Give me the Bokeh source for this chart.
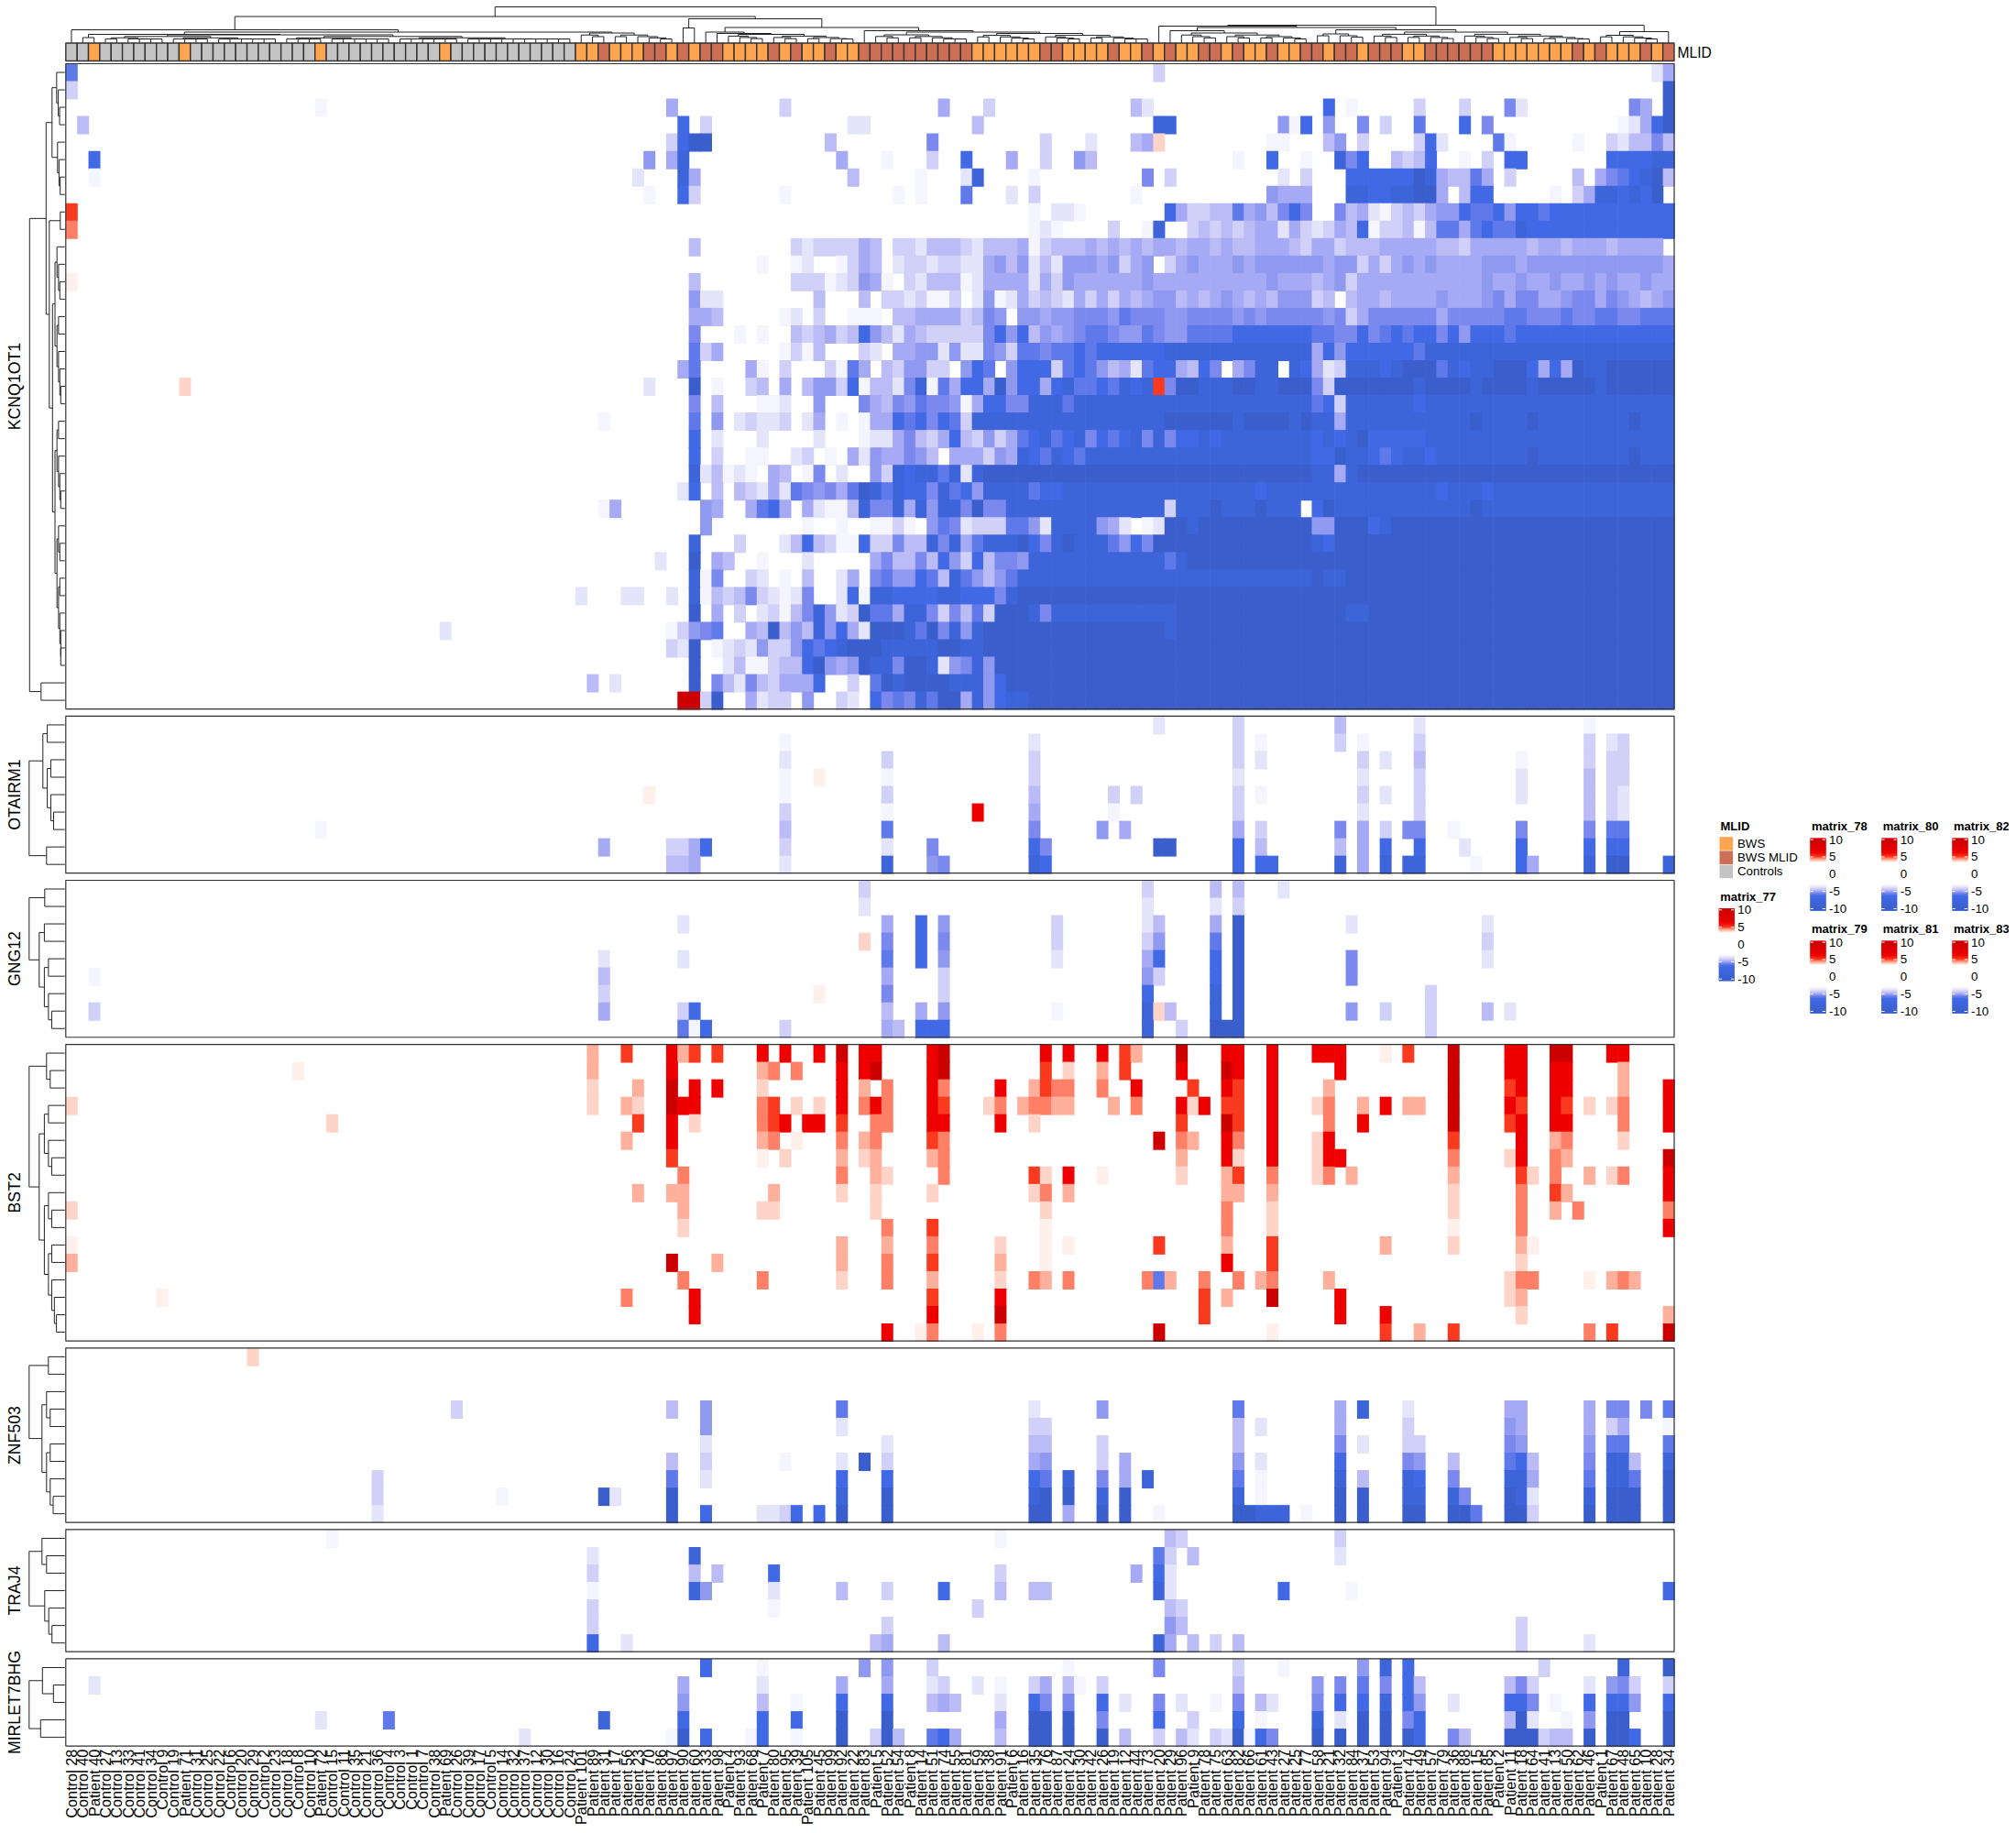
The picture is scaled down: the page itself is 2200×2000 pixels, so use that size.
import re
from math import pi
from bokeh.plotting import figure
from bokeh.models import Range1d, LinearColorMapper, ColumnDataSource
from bokeh.core.properties import value
from bokeh.embed import file_html
from bokeh.resources import INLINE

# ---------------------------------------------------------------- data
COLUMN_IDS = ("C28 C40 P40 C27 C13 C33 C41 C34 C9 C19 P71 C31 C25 C22 C6 C20 C29 C2 C23 C18 C8 C10 P72 C15 C11 "
              "C35 C21 C36 C4 C3 C1 C7 C38 P69 C26 C39 C17 C5 C14 C32 C37 C12 C30 C16 C24 "
              "P101 P89 P31 P17 P56 P23 P70 P86 P97 P90 P60 P33 P98 P4 P93 P68 P7 P80 P95 P39 P105 P45 P99 P92 P22 "
              "P83 P5 P52 P54 P8 P14 P51 P74 P55 P81 P59 P38 P91 P6 P16 P35 P76 P87 P24 P30 P42 P26 P19 P12 P44 "
              "P73 P20 P29 P96 P9 P78 P75 P63 P82 P66 P61 P43 P27 P25 P77 P58 P21 P32 P84 P37 P53 P94 P3 P47 P49 "
              "P57 P79 P36 P88 P15 P85 P2 P11 P18 P64 P41 P13 P50 P62 P46 P1 P67 P48 P65 P10 P28 P34").split()

MLID_GROUPS = ("CCOCCCCCCCOCCCCCCCCCCCOCCCCCCCCCCOCCCCCCCCCCC"
               "OOMOOOMMOMOMMOOOOMOMOOMOOMMMMM"
               "MMMMMOOOOOOMMOOOOMOOMOMOOMMOMOOMOOMMOMMOMMMOOMMMMMMOOOOOOOMOMOOOMOM")

LEVELS = {"a": -3.0, "b": -3.5, "c": -4.0, "d": -4.4, "e": -4.7, "f": -5.0, "g": -5.3, "h": -5.6, "i": -6.2,
          "j": -8.0, "k": -10.0, "A": 3.7, "B": 4.0, "C": 4.4, "D": 4.8, "E": 5.2, "F": 6.5, "G": 10.0}

KCNQ1OT1 = [
 "1h 97c 141be",
 "1c 142k",
 "23a 54e 64c 78e 82c 95db 112i 114a 120c 124c 128gb 139ge 142k",
 "2d 55i 57c 70bb 81d 97jj 108fai 112f 115g 117c 120h 124i 126g 138abeik",
 "54cikk 68d 77g 87c 91b 95deB 107aa 112df 115c 120cib 127ha 134a 137cbddgd",
 "3i 52f 54ej 69e 73a 77c 80i 84e 87c 90fd 104a 107i 110a 113jgi 118dcdi 124a 126c 128ii 137iiiijj",
 "3a 51b 55je 70d 76a 80bj 86a 96g 98c 108b 110c 114iiiiiikjeddhe 128c 134d 136eghijkd",
 "52a 55ic 64a 74a 76a 80h 84b 86c 95a 107feee 114jjiijjkke.dii 132a 134cejjijik",
 "1E 86a 88bba 98ieccddhefdgig..gdebacdceffihhifiihiiiiiiiiiii",
 "1D 86aba 93c 96a 97j 100cdcdcdeebecbcediaccdadhhehihhjiiiiiiiiiiiii",
 "56d 65cbcccced.ccbdddcbdddeacdddededede 98edeededdeeedceecdddeeeeeddceeeeedeedeeedeeee",
 "62a 65ab..aced.bccbccbbefdfbdbfffefcef 98cefeeefeffffffeffcecefefeeeefffeffffffffffffef",
 "1A 56d 65cccabcfea.cbdddabeeeebecfeeeeeefe 98eeeeeeeeefeeedefceeeeeeeeeeefeefeefeefefeefeee",
 "56fbb 67d 71d 73ccbcaac.bfabecdcbececedef 98fdedefededfffcd.deedeeeefeeefgeggeefggegfedef",
 "56eed 64ab.c 70aaa.ddeeeecdgf.ffeffgggfhggg 98ffggggfgfgggggfgceggggggeggggghhggghgghhgghhhghg",
 "56g 60a 62a 65dcdecdifdbedcccccgifidfefghhgffhg 98ffhhhhiiiiiiihhggighihiigifiiihiiiiiiiiiiiiiii",
 "56hce 64acad 71cb.eeffbfbbgfchhghhihiiiiii 98-110j 111eif 114-119i 120h 121-142j",
 "55eh 61ea 64c 68cahe.dcffcc.fih.fiiichihfdebhi 98iedig.egjj.jiebcjjjijkkkhjijjkkkieiekjjk 138-142k",
 "11B 52b 56k 58a 61cd 64e 66dffcia 72ddbgjahei 81iekfiieijhhihjijE 98gkkjjjkkjjkkkgc 113-142k 120j 125j 130j 136j",
 "56g 58d 62aa 64b 67f 71gedgfhggfaeiiggjjjhj 91-97j 98-110j 111hic 114-119j 120i 121-142j",
 "48a 56h 58f 60bcbbc 66be 69a 71aeeihigihc 81-97j 98-110k 104j 109j 111jje 114-142j 125k 130k 139k",
 "56i 58b 62b 67b 71abbegdceidcfcehijhijgihijgj 98giijij 104-110j 111iji 114jkiiiii 121-142j",
 "56i 58c 61aa 65bc 68a 70ebfeegfd.eeecfejihjih 91-97j 98-110j 111iikjjihijji 122-142j 130k 139k",
 "56jbdaba 63ed 66ag 69b 72fcjijjhjbj 82-110k 111jjej 115-142k",
 "55bi 58d 60dcbebhgfgehkjhjiigjhifjjjjhii 89-142j 106i 122i 126i",
 "48a 49e 57fe 61ehie.eba 69adjggjejfjjgkggj 85-97j 98cjjjkjjjkjjj 111ik 113-142j 125k",
 "57f 66a 69a 72aaca.fhgbccchhfbjjjjfeb.ab 98kkj 101-110k 111ffkkkij 118-142k",
 "56j 60c 64bdidcaaiccgddjgjehjjjkigjkjjjhfigk 98-110k 111ji 113-142k",
 "53b 56k 58ed 62a 66b 72egddgdifcidggf 86-97j 98hj 100-142k",
 "56j 57ag 61cb 64a 66d 69be 72ghffihdjhfdfh 85-97j 98-110j 111-142k 112j 113j",
 "46b 50bb 54b 56jadcdgcbabg 69bia 72jjiiiijjiiigj 85-142k",
 "56k 58e 60c 62bcadgjfbckhhejjgcgdhckkkjgj 89-97j 98j 99-142k 114j 115j",
 "34b 54acfgh 61edkdfdjfieb 72kkkjhkgjfj 82-142k 98j",
 "54cbk 58abcbfccfihijkkkjjjjjkkjj 82-142k",
 "56k 59bdaacddikfef 71kjjgkkjbfgjf 83-142k",
 "47d 49b 56k 58gdbgdceeei..c 72hkjkkkkjjjfi 84-142k",
 "55GGck 61ebcc 66f 69cb 72ighgjhkkejfijj 86-142k",
]

OTAIRM1 = [
 "97b 104c 113d 120b 135a",
 "64a 86b 104c 106a 113c 115a 120c 135c 137bc",
 "64b 73c 86c 104c 106b 115c 117b 120d 129a 135c 137cc",
 "64a 67A 73a 86c 104b 115b 120c 129b 135d 137cc",
 "52A 64a 73c 86d 93c 95c 104c 106a 115c 117b 120c 129b 135d 137cb",
 "64c 73a 81F 86e 93a 104c 115b 120c 135d 137cb",
 "23a 64d 73h 86g 92f 94e 104e 106c 113g 115e 117c 119g 120g 123a 129g 135g 137hh",
 "48e 54cce 57i 64c 73b 77g 86ig 97kk 104i 106d 113d 115e 117i 120i 124b 129i 135i 137ii",
 "54dde 64b 73j 77fg 86ji 104i 106ii 113j 115e 117j 119jj 125a 129ie 135j 137kk 142j",
]

GNG12 = [
 "71c 96c 102d 104d 108b",
 "71b 96b 102b 104c",
 "55b 73e 76i 78f 88c 96b 97d 102e 104k 114b 126b",
 "71B 73g 76i 78g 88c 96c 97f 102h 104k 126c",
 "48b 55b 73h 76i 78f 88b 96e 97i 102i 104k 114g 126b",
 "3a 48d 73e 78c 96f 97c 102i 104k 114g",
 "48c 67A 73g 78c 96i 102j 104k 121c",
 "3c 48e 55c 56i 73d 76e 78f 88a 96jB 98d 102j 104k 114f 117c 121c 126d 128b",
 "55hai 64c 73ed 76iii 96j 99c 102kk 104k 121c",
]

BST2 = [
 "47C 50E 54FC 56E 58E 62F 64F 67F 69G 71FF 77FG 87F 89F 92F 94E 95C 99G 103FF 107F 111FF 113F 117A 119E 123G 128FF 132GG 137FF",
 "21A 47C 54F 62CD 65D 69F 71FG 77FG 87E 89B 92C 94E 99F 103GF 107F 113F 123G 128FF 132FF 138C",
 "47B 51C 54G 56F 58F 62B 69F 71C 73D 77F 78D 83F 86C 87E 88D 89D 92D 95F 100E 103FE 107F 112C 123G 128EF 132FF 138C 142F",
 "1B 47B 50CB 54G 55FF 62DE 65B 67B 69F 71DF 73D 77FE 82BD 85C 86DD 88CC 93C 95D 99F 100B 101F 103EE 107F 111B 112D 115C 117F 119CC 123G 128FE 132FE 135B 137B 138D 142F",
 "24B 51E 54F 56B 62DE 64F 66F 67F 69E 72DD 77FF 83F 86B 99E 103GE 107F 112D 115F 123G 128EF 132FF 138D 142F",
 "50C 54F 62CD 65A 69D 71CD 77ED 97G 99DC 103FD 107F 111B 112F 123E 129F 132CD 138B",
 "54E 62A 64B 69C 71BC 77CD 99C 103FB 107F 111B 112FF 123D 128BF 132DC 142G",
 "55D 69D 72CB 78D 86E 87B 89F 92A 99B 103CE 107D 111B 112D 114C 123C 129EB 132D 135C 137BD 142F",
 "51C 54CC 63C 69B 72B 77B 86B 87D 89C 103CC 107C 123B 129D 132EC 142F",
 "1B 55C 62BB 72B 87B 103D 107B 123B 129D 132C 134D 142D",
 "55B 73D 77E 87A 103D 107B 123A 129D 142F",
 "1A 69C 73C 77D 83B 87A 89A 97E 103C 107E 117C 123B 129CA",
 "1C 54G 58C 69C 73D 77E 83C 87A 103F 107E 129B",
 "55D 62D 69B 73D 77C 83B 86DC 89D 96DhC 101D 104D 106CD 112C 128BDD 135A 137CDC",
 "9A 50D 56F 77E 83F 101E 103C 107G 113F 128BC",
 "56F 77F 83G 101E 113F 117F 129B 142C",
 "73F 76AD 81A 83D 97G 107A 117E 120C 123E 135D 137E 142G",
]

ZNF503 = [
 "17B",
 "",
 "",
 "35c 54d 57f 69h 86b 92f 104h 113e 115j 119b 128ee 135e 137gg 140g 142h",
 "57f 69b 86cc 104d 106b 113e 119c 128fe 135e 137ce 142a",
 "57b 73b 86dd 92c 104d 113g 115b 119cc 128gf 135f 137hh 142h",
 "54d 57c 64a 69b 71k 73c 86ef 92c 94e 104f 106b 113i 119gf 123d 128hid 135g 137jjd 142j",
 "28c 54h 57b 69i 73i 86ih 89j 92g 94e 96j 104h 106a 113j 115d 119ji 123g 128jje 135h 137jjh 142k",
 "28c 39a 48kb 54k 69j 73k 86jk 89k 92j 94k 104j 106a 113k 115k 119jj 123jg 128kjb 135j 137kkk 142k",
 "28b 54k 57i 62bb 64c 65i 67i 69k 73k 86kk 89e 92k 94k 97a 104kkjjj 110a 113k 115k 119kk 123kkh 128kkc 135k 137kkk 142k",
]

TRAJ4 = [
 "24a 83a 98dc 113c",
 "47b 56j 97hc 100d 113b",
 "47c 56d 58d 63i 83c 95e 97ib",
 "47a 56jf 63b 69d 73c 78i 83d 86dd 97jb 108i 114a 142i",
 "47c 63a 81c 98dc",
 "47c 73c 98fd 129c",
 "47i 50b 72de 78d 97je 100d 102c 104d 129c 135b",
]

MIRLET7BHG = [
 "57i 62a 71f 73f 77c 89a 97g 104c 108a 115f 117j 119i 131c 138j 142k",
 "3b 55e 62b 69e 73e 77bc 81b 83a 86ce 89da 92c 104d 111f 113g 115h 117g 119id 128dgc 135b 137fgc 142c",
 "55f 62d 65a 69i 73i 77ded 83b 86ig 89g 92i 94b 97g 99b 102a 104g 106db 111g 113i 115i 117j 119if 123b 128iig 132a 135i 137iif 142i",
 "23b 29h 48j 55i 62i 65i 69k 73k 83e 86kk 89k 92g 97i 100c 104i 106a 111j 113b 115k 117k 119gi 128dkb 133a 135f 137kk 142k",
 "41b 54ak 57i 61ai 65a 69k 72ckd 77hie 83d 86kk 89k 92k 94d 97c 99db 102cb 104kaig 111k 113k 115k 117k 119ki 123gd 128kkkcdd 135k 137kki 142k",
]

PANELS = [("KCNQ1OT1", KCNQ1OT1), ("OTAIRM1", OTAIRM1), ("GNG12", GNG12), ("BST2", BST2),
          ("ZNF503", ZNF503), ("TRAJ4", TRAJ4), ("MIRLET7BHG", MIRLET7BHG)]
MLID_LEGEND = ["BWS", "BWS MLID", "Controls"]
MLID_COLORS = {"O": "#FFA54F", "M": "#CD6F55", "C": "#C4C4C4"}
LEGEND_TICKS = [10, 5, 0, -5, -10]
MATRIX_LEGENDS = ["matrix_77", "matrix_78", "matrix_79", "matrix_80", "matrix_81", "matrix_82", "matrix_83"]

# ---------------------------------------------------------------- layout (page pixels)
X0, X1 = 71.3, 1826.5
N = len(COLUMN_IDS)
CW = (X1 - X0) / N
ROW_H, GAP, TOP = 19.03, 7.8, 69.0
STRIP_T, STRIP_B = 46.5, 66.0
FONT = value("Liberation Sans")

def xc(k):
    return X0 + (k - 0.5) * CW

def parse(row):
    out = {}
    for tok in row.split():
        m = re.fullmatch(r"(\d+)-(\d+)(\S)", tok)
        if m:
            for k in range(int(m[1]), int(m[2]) + 1):
                out[k] = m[3]
            continue
        m = re.fullmatch(r"(\d+)(\S+)", tok)
        for i, ch in enumerate(m[2]):
            out[int(m[1]) + i] = ch
    return {k: v for k, v in out.items() if v != "." and k <= N}

def hexrgb(h):
    return tuple(int(h[i:i + 2], 16) for i in (1, 3, 5))

STOPS = [(-10, "#3A5FCD"), (-8, "#3D64D9"), (-6.2, "#4169E6"), (-5.6, "#5F78EA"), (-5.3, "#7B88EE"),
         (-5.0, "#9099F0"), (-4.7, "#A6A9F3"), (-4.4, "#BBBBF5"), (-4.0, "#D0D0F8"), (-3.5, "#E4E4FA"),
         (-3.0, "#F5F5FF"), (-2.7, "#FFFFFF"), (3.5, "#FFFFFF"), (3.7, "#FFF0EB"), (4.0, "#FFD4C8"),
         (4.4, "#FFB09C"), (4.8, "#FF8066"), (5.2, "#F93A1E"), (6.5, "#EE0000"), (10, "#CD0000")]

def ramp(v):
    for (a, ca), (b, cb) in zip(STOPS, STOPS[1:]):
        if a <= v <= b:
            t = (v - a) / (b - a)
            ra, rb = hexrgb(ca), hexrgb(cb)
            return "#%02X%02X%02X" % tuple(round(x + (y - x) * t) for x, y in zip(ra, rb))
    return "#FFFFFF"

palette = [ramp(-10 + 20 * i / 800) for i in range(801)]
mapper = LinearColorMapper(palette=palette, low=-10, high=10)

p = figure(width=2192, height=1998, x_range=Range1d(0, 2192), y_range=Range1d(1998, 0),
           toolbar_location=None, output_backend="svg", min_border=0)
p.axis.visible = False
p.grid.visible = False
p.outline_line_color = None

# ---------------------------------------------------------------- dendrogram helpers
def N_(h, a, b):
    return (h, a, b)

def g(n, h):
    if n == 1:
        return 0
    a = max(1, n * 2 // 5)
    ch = max(4.5, h * 0.8)
    return (h, g(a, ch), g(n - a, ch))

def layout(node, leaf_pos, segs):
    """returns (centre position, height)"""
    if node == 0:
        pos = leaf_pos.pop(0)
        return pos, 0.0
    h, a, b = node
    pa, ha = layout(a, leaf_pos, segs)
    pb, hb = layout(b, leaf_pos, segs)
    segs.append((pa, h, pb, h))
    segs.append((pa, ha, pa, h))
    segs.append((pb, hb, pb, h))
    return (pa + pb) / 2, h

TOP_TREE = N_(39.5,
    N_(29,
       N_(14.5, 0, N_(12, N_(9.5, N_(6, 0, 0), g(42, 9)), g(9, 11))),
       N_(26.5, N_(16.5, 0, 0),
          N_(17,
             N_(12, 0, N_(10.5, 0, g(12, 9.5))),
             N_(13.5, 0, N_(12, g(9, 9), g(16, 10.5)))))),
    N_(19.5,
       N_(18.5, 0,
          N_(17,
             N_(13.5, 0, g(12, 11)),
             N_(14.5, g(5, 10), g(20, 12)))),
       N_(12.5, g(6, 8.5), 0)))

ROW_TREES = {
    "KCNQ1OT1": N_(38.5, N_(20.5, N_(14, g(4, 9), g(4, 8)), N_(17, N_(5, 0, 0), g(25, 13.5))), N_(26, 0, 0)),
    "OTAIRM1": N_(39, g(7, 24), N_(20, 0, 0)),
    "GNG12": N_(39, N_(22, 0, 0), g(7, 28)),
    "BST2": N_(39, g(3, 20), g(14, 28)),
    "ZNF503": N_(39, g(2, 18), g(8, 25)),
    "TRAJ4": N_(39, g(3, 25), g(4, 22)),
    "MIRLET7BHG": N_(39, N_(24.5, 0, N_(12.5, 0, 0)), N_(26.5, 0, 0)),
}

# ---------------------------------------------------------------- top dendrogram
segs = []
layout(TOP_TREE, [xc(k) for k in range(1, N + 1)], segs)
p.segment(x0=[s[0] for s in segs], y0=[STRIP_T - s[1] for s in segs],
          x1=[s[2] for s in segs], y1=[STRIP_T - s[3] for s in segs], line_color="#222222", line_width=1)

# ---------------------------------------------------------------- annotation strip
p.rect(x=[xc(k) for k in range(1, N + 1)], y=[(STRIP_T + STRIP_B) / 2] * N, width=CW, height=STRIP_B - STRIP_T,
       fill_color=[MLID_COLORS[c] for c in MLID_GROUPS[:N]], line_color="#333333", line_width=1.4)
p.text(x=[X1 + 3.5], y=[56.5], text=["MLID"], text_font=FONT, text_font_size="15.6px", text_color="black",
       text_align="left", text_baseline="middle")

# ---------------------------------------------------------------- heatmap panels
top = TOP
cx, cy, cv = [], [], []
frames = []
for name, rows in PANELS:
    for r, row in enumerate(rows):
        for k, ch in parse(row).items():
            cx.append(xc(k))
            cy.append(top + (r + 0.5) * ROW_H)
            cv.append(LEVELS[ch])
    bottom = top + len(rows) * ROW_H
    frames.append((name, top, bottom))
    top = bottom + GAP

src = ColumnDataSource(dict(x=cx, y=cy, v=cv))
p.rect(x="x", y="y", width=CW, height=ROW_H, source=src, dilate=True, line_color=None,
       fill_color={"field": "v", "transform": mapper})

for name, t, b in frames:
    p.quad(left=[X0], right=[X1], top=[t], bottom=[b], fill_color=None, line_color="#303030", line_width=1.2)
    p.text(x=[15], y=[(t + b) / 2], text=[name], angle=pi / 2, text_font=FONT, text_font_size="17.7px",
           text_color="black", text_align="center", text_baseline="middle")
    nrows = round((b - t) / ROW_H)
    segs = []
    layout(ROW_TREES[name], [t + (i + 0.5) * ROW_H for i in range(nrows)], segs)
    p.segment(x0=[X0 - 1 - s[1] for s in segs], y0=[s[0] for s in segs],
              x1=[X0 - 1 - s[3] for s in segs], y1=[s[2] for s in segs], line_color="#222222", line_width=1)

# ---------------------------------------------------------------- column labels
labels = [("Control " if c[0] == "C" else "Patient ") + c[1:] for c in COLUMN_IDS]
p.text(x=[xc(k) for k in range(1, N + 1)], y=[frames[-1][2] + 3.5] * N, text=labels, angle=pi / 2, text_font=FONT,
       text_font_size="16.3px", text_color="black", text_align="right", text_baseline="middle")

# ---------------------------------------------------------------- legends
def title(x, y, s):
    p.text(x=[x], y=[y], text=[s], text_font=FONT, text_font_size="13px", text_font_style="bold",
           text_color="black", text_align="left", text_baseline="middle")

title(1877, 901, "MLID")
for i, (lab, key) in enumerate(zip(MLID_LEGEND, "OMC")):
    yc = 920 + i * 15.2
    p.rect(x=[1883.3], y=[yc], width=14.6, height=14.6, fill_color=MLID_COLORS[key], line_color=None)
    p.text(x=[1895.5], y=[yc], text=[lab], text_font=FONT, text_font_size="13.3px", text_color="black",
           text_align="left", text_baseline="middle")

def colorbar(x, y0, name):
    title(x + 1.5, y0 - 52, name)
    unit = 3.77
    vals = [i / 10 for i in range(-104, 105) if abs(i) >= 27]
    s = ColumnDataSource(dict(x=[x + 8.25] * len(vals), y=[y0 - v * unit for v in vals], v=vals))
    p.rect(x="x", y="y", width=16.5, height=0.1 * unit, dilate=True, source=s, line_color=None,
           fill_color={"field": "v", "transform": mapper})
    for t in LEGEND_TICKS:
        y = y0 - t * unit
        if t != 0:
            p.segment(x0=[x, x + 13.2], y0=[y, y], x1=[x + 3.3, x + 16.5], y1=[y, y], line_color="white", line_width=1)
        p.text(x=[x + 20.5], y=[y], text=[str(t)], text_font=FONT, text_font_size="13.3px", text_color="black",
               text_align="left", text_baseline="middle")

positions = [(1875.3, 1030), (1975, 953.3), (1975, 1065.3), (2052.7, 953.3), (2052.7, 1065.3), (2130, 953.3), (2130, 1065.3)]
for (x, y0), name in zip(positions, MATRIX_LEGENDS):
    colorbar(x, y0, name)

open("out.html", "w").write(file_html(p, INLINE))
